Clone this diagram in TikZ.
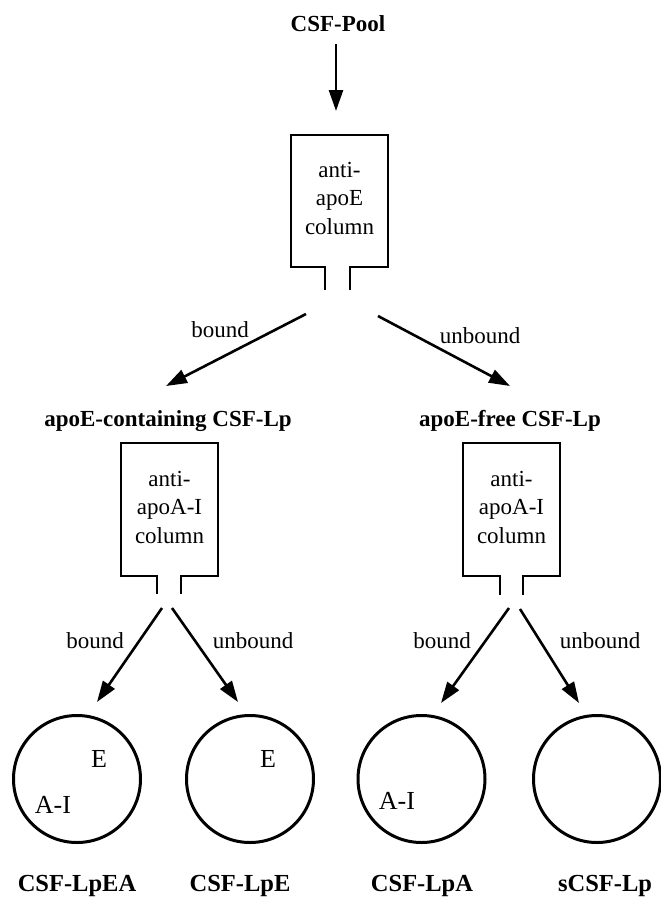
\documentclass[tikz,border=0pt]{standalone}
\usepackage{fontspec}
\setmainfont{Liberation Serif}
\usetikzlibrary{arrows.meta}
\begin{document}
\begin{tikzpicture}[x=1pt, y=-1pt,
    arr/.style={line width=2.6pt, -{Triangle[length=21pt,width=14pt]}},
    colwall/.style={line width=2pt, line join=miter},
    coltext/.style={align=center, font=\fontsize{23}{28.5}\selectfont},
    flowlbl/.style={anchor=base, font=\fontsize{23}{28}\selectfont},
    headlbl/.style={anchor=base, font=\bfseries\fontsize{23}{28}\selectfont},
    poollbl/.style={anchor=base, font=\bfseries\fontsize{24.5}{28}\selectfont},
    particle/.style={circle, draw, line width=3pt, minimum size=127pt, inner sep=0pt},
    apolbl/.style={font=\fontsize{26}{30}\selectfont, inner sep=0pt}]

    \useasboundingbox (0,0) rectangle (661,897);

    % --------------------------------------------------
    % Top: pool and first column (anti-apoE)
    % --------------------------------------------------
    \node[headlbl] (pool) at (338,31) {CSF-Pool};
    \coordinate (col1top) at (336,111);
    \draw[arr] (pool.south -| col1top) ++(0,9) coordinate (poolout) -- (col1top);

    \draw[colwall] (325,290) -- (325,267) -- (291,267) -- (291,135)
        -- (388,135) -- (388,267) -- (350,267) -- (350,290);
    \node[coltext] (col1) at (339.5,198) {anti-\\apoE\\column};

    \coordinate (col1l) at (306,314);
    \coordinate (col1r) at (378,316);
    \coordinate (lpetip) at (166,386);
    \coordinate (freetip) at (510,386);
    \draw[arr] (col1l) -- (lpetip);
    \draw[arr] (col1r) -- (freetip);
    \node[flowlbl] (b1) at (220,337) {bound};
    \node[flowlbl] (u1) at (480,343) {unbound};

    % --------------------------------------------------
    % Middle: the two fractions and their anti-apoA-I columns
    % --------------------------------------------------
    \node[headlbl] (lpe) at (168,426) {apoE-containing CSF-Lp};
    \node[headlbl] (free) at (510,426) {apoE-free CSF-Lp};

    % left column
    \draw[colwall] (157,594) -- (157,576) -- (121,576) -- (121,443)
        -- (218,443) -- (218,576) -- (181,576) -- (181,594);
    \node[coltext] (col2) at (169.5,507) {anti-\\apoA-I\\column};

    % right column
    \draw[colwall] (500,595) -- (500,576) -- (463,576) -- (463,443)
        -- (560,443) -- (560,576) -- (523,576) -- (523,595);
    \node[coltext] (col3) at (511.5,507) {anti-\\apoA-I\\column};

    % --------------------------------------------------
    % Bottom: four particle classes
    % --------------------------------------------------
    \node[particle] (lpea) at (77,779) {};
    \node[particle] (lpeonly) at (250,779) {};
    \node[particle] (lpa) at (421.5,779) {};
    \node[particle] (slp) at (597,779) {};

    \node[apolbl] (ea-e) at (99,759) {E};
    \node[apolbl] (ea-a) at (53,805) {A-I};
    \node[apolbl] (e-e) at (268,759) {E};
    \node[apolbl] (a-a) at (397,801) {A-I};

    \coordinate (col2l) at (162,608);
    \coordinate (col2r) at (172,608);
    \coordinate (col3l) at (509,608);
    \coordinate (col3r) at (520,609);
    \coordinate (lpeatip) at (97,702);
    \coordinate (lpeonlytip) at (238,702);
    \coordinate (lpatip) at (441,703);
    \coordinate (slptip) at (579,703);
    \draw[arr] (col2l) -- (lpeatip);
    \draw[arr] (col2r) -- (lpeonlytip);
    \draw[arr] (col3l) -- (lpatip);
    \draw[arr] (col3r) -- (slptip);
    \node[flowlbl] (b2) at (95,648) {bound};
    \node[flowlbl] (u2) at (253,648) {unbound};
    \node[flowlbl] (b3) at (442,648) {bound};
    \node[flowlbl] (u3) at (600,648) {unbound};

    % Particle names
    \node[poollbl] (n-lpea) at (77,891) {CSF-LpEA};
    \node[poollbl] (n-lpe) at (240,891) {CSF-LpE};
    \node[poollbl] (n-lpa) at (422,891) {CSF-LpA};
    \node[poollbl] (n-slp) at (605,891) {sCSF-Lp};

\end{tikzpicture}
\end{document}
